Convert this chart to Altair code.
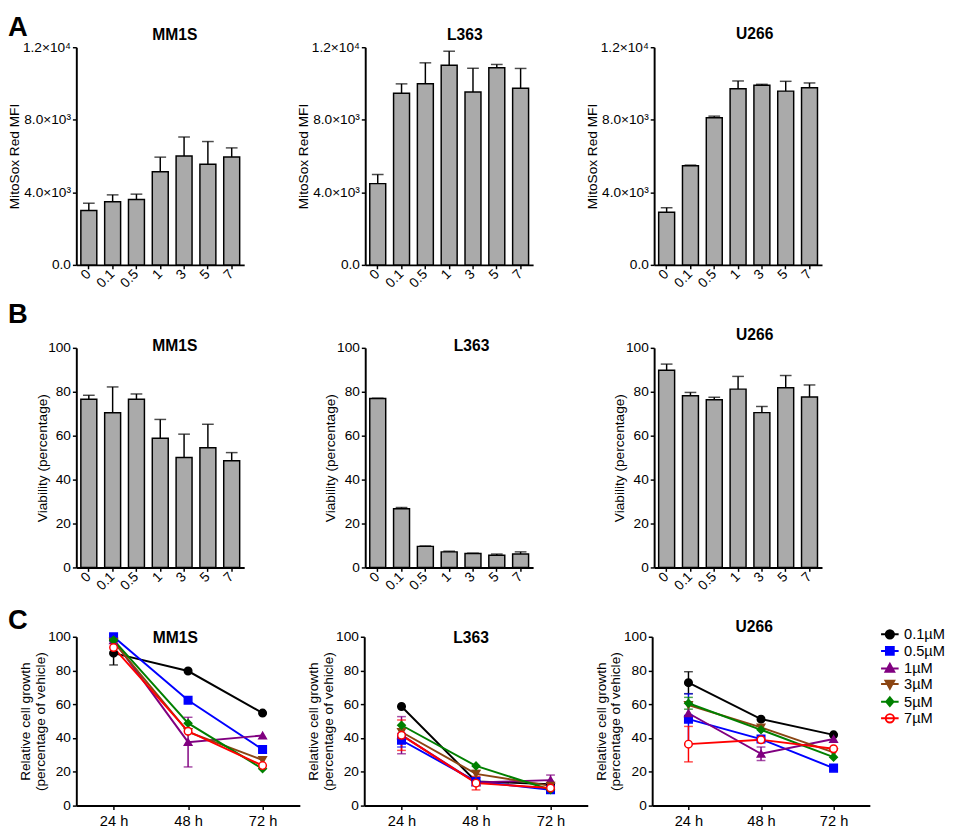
import altair as alt
import pandas as pd

FONT = "Liberation Sans"

# ---------------- data ----------------
doses = ["0", "0.1", "0.5", "1", "3", "5", "7"]

mfi_ticks = [0, 4000, 8000, 12000]
mfi_tick_labels = ["0.0", "4.0×10³", "8.0×10³", "1.2×10⁴"]
mfi_mm1s = [3000, 3480, 3600, 5140, 6000, 5550, 5950]
mfi_mm1s_err = [400, 380, 300, 800, 1050, 1250, 500]
mfi_l363 = [4480, 9460, 9990, 11010, 9530, 10870, 9740]
mfi_l363_err = [500, 520, 1150, 770, 1310, 180, 1090]
mfi_u266 = [2900, 5460, 8110, 9710, 9900, 9580, 9760]
mfi_u266_err = [250, 40, 90, 430, 55, 540, 270]

pct_ticks = [0, 20, 40, 60, 80, 100]
via_mm1s = [76.6, 70.4, 76.6, 58.8, 50.1, 54.5, 48.6]
via_mm1s_err = [1.8, 11.8, 2.4, 8.6, 10.6, 10.7, 3.7]
via_l363 = [76.9, 26.7, 9.6, 7.1, 6.4, 5.6, 6.1]
via_l363_err = [0.1, 0.6, 0.2, 0.3, 0.1, 0.5, 1.0]
via_u266 = [89.8, 78.2, 76.4, 81.2, 70.5, 81.8, 77.6]
via_u266_err = [2.8, 1.5, 1.1, 5.8, 2.8, 5.6, 5.5]

times = ["24 h", "48 h", "72 h"]
concs = ["0.1µM", "0.5µM", "1µM", "3µM", "5µM", "7µM"]
conc_colors = ["#000000", "#0000ff", "#800080", "#8b4513", "#008000", "#ff0000"]
conc_fills = ["#000000", "#0000ff", "#800080", "#8b4513", "#008000", "#ffffff"]
conc_shapes = ["circle", "square", "triangle-up", "triangle-down", "diamond", "circle"]

growth_mm1s = [[90.3, 79.7, 54.8], [100, 62.4, 33.2], [98, 37.6, 41.5],
               [97, 43.6, 27.0], [98, 48.8, 21.8], [93.6, 44.0, 23.7]]
growth_mm1s_err = [[7, 0, 0], [0, 0, 0], [0, 14.7, 0], [0, 0, 0], [0, 0, 0], [0, 0, 0]]
growth_l363 = [[58.7, 14.3, 12.7], [38.7, 14.3, 9.4], [41.7, 13.7, 15.1],
               [43.6, 18.8, 11.7], [47.6, 23.5, 9.4], [41.7, 13.3, 10.4]]
growth_l363_err = [[0, 0, 0], [4, 0, 0], [11, 0, 3], [0, 2, 0], [0, 0, 0], [9, 4, 0]]
growth_u266 = [[72.8, 51.2, 41.9], [51.2, 39.4, 22.2], [54.7, 30.7, 39.4],
               [59.6, 46.3, 31.5], [60.6, 44.9, 28.7], [36.4, 39.0, 33.7]]
growth_u266_err = [[6.5, 0, 0], [15, 0, 0], [0, 4, 0], [0, 0, 0], [3.5, 0, 0], [10.5, 0, 0]]

# legend glyphs: a line segment through the marker
legend_paths = [
    "M-1.8,0H1.8M-0.85,0A0.85,0.85 0 1,1 0.85,0A0.85,0.85 0 1,1 -0.85,0Z",
    "M-1.8,0H1.8M-0.8,-0.8H0.8V0.8H-0.8Z",
    "M-1.8,0H1.8M0,-0.95L0.9,0.7H-0.9Z",
    "M-1.8,0H1.8M0,0.95L0.9,-0.7H-0.9Z",
    "M-1.8,0H1.8M0,-0.9L0.75,0L0,0.9L-0.75,0Z",
    "M-1.8,0H1.8M-0.85,0A0.85,0.85 0 1,1 0.85,0A0.85,0.85 0 1,1 -0.85,0Z",
]

LABEL_SIZE = 14
TITLE_SIZE = 14
AX = dict(domainColor="black", domainWidth=2, tickColor="black", tickWidth=1.5, tickSize=4,
          labelColor="black", labelFont=FONT, labelFontSize=LABEL_SIZE,
          titleColor="black", titleFont=FONT, titleFontSize=TITLE_SIZE, titleFontWeight="normal",
          grid=False)


def label_expr(ticks, labels):
    expr = "''"
    for t, l in reversed(list(zip(ticks, labels))):
        expr = f"datum.value == {t} ? '{l}' : {expr}"
    return expr


def letter_layer(letter, y):
    return alt.Chart(pd.DataFrame({"t": [letter]})).mark_text(
        align="left", baseline="alphabetic", fontSize=28, fontWeight="bold",
        font=FONT, color="black"
    ).encode(text="t:N", x=alt.value(-70), y=alt.value(y))


def panel_title(name, dx, dy):
    return alt.TitleParams(name, fontSize=16, fontWeight="bold", font=FONT, color="black",
                           anchor="middle", frame="group", offset=0, dx=dx, dy=dy)


def bar_panel(vals, errs, name, ymax, ticks, lexpr, ytitle, title_x, dx, dy, height,
              letter=None, letter_y=0):
    df = pd.DataFrame({"dose": doses, "value": vals,
                       "upper": [v + e for v, e in zip(vals, errs)]})
    xenc = alt.X("dose:N", sort=doses,
                 scale=alt.Scale(paddingInner=0.33, paddingOuter=0.19),
                 axis=alt.Axis(title=None, labelAngle=-45, labelAlign="right",
                               labelBaseline="middle", labelPadding=3, **AX))
    yaxis = alt.Axis(values=ticks, title=ytitle, titleX=title_x, titleAlign="center",
                     titleBaseline="bottom", labelPadding=2,
                     **({"labelExpr": lexpr} if lexpr else {}), **AX)
    yscale = alt.Scale(domain=[0, ymax], nice=False, zero=True)
    base = alt.Chart(df)
    err = base.mark_rule(color="black", strokeWidth=1.5).encode(
        x=xenc, y=alt.Y("value:Q", scale=yscale, axis=yaxis), y2="upper:Q")
    bars = base.mark_bar(fill="#aaaaaa", stroke="black", strokeWidth=1.5).encode(
        x=xenc, y=alt.Y("value:Q", scale=yscale, axis=yaxis))
    cap = base.mark_tick(orient="horizontal", size=12, thickness=1.5, color="black").encode(
        x=xenc, y=alt.Y("upper:Q", scale=yscale, axis=yaxis))
    layers = [err, bars, cap]
    if letter:
        layers.append(letter_layer(letter, letter_y))
    return alt.layer(*layers).properties(width=172, height=height,
                                         title=panel_title(name, dx, dy))


def growth_panel(vals, errs, name, width, dx, dy, letter=None, letter_y=0, legend=False):
    rows = []
    for c, series, es in zip(concs, vals, errs):
        for t, v, e in zip(times, series, es):
            rows.append({"conc": c, "time": t, "value": v, "err": e,
                         "lo": v - e, "hi": v + e})
    df = pd.DataFrame(rows)
    edf = df[df["err"] > 0]
    xax = dict(AX)
    xax["labelFontSize"] = 15
    xenc = alt.X("time:N", sort=times, scale=alt.Scale(type="point", padding=0.5),
                 axis=alt.Axis(title=None, labelAngle=0, labelPadding=4, **xax))
    yaxis = alt.Axis(values=pct_ticks, title=["Relative cell growth", "(percentage of vehicle)"],
                     titleX=-45, titleAlign="center", titleBaseline="bottom",
                     titleLineHeight=15, labelPadding=2, **AX)
    yscale = alt.Scale(domain=[0, 100], nice=False)
    color = alt.Color("conc:N", scale=alt.Scale(domain=concs, range=conc_colors), legend=None)
    base = alt.Chart(df)
    line = base.mark_line(strokeWidth=2).encode(
        x=xenc, y=alt.Y("value:Q", scale=yscale, axis=yaxis), color=color)
    ebase = alt.Chart(edf)
    rule = ebase.mark_rule(strokeWidth=1.5).encode(
        x=xenc, y=alt.Y("lo:Q", scale=yscale, axis=yaxis), y2="hi:Q", color=color)
    cap_lo = ebase.mark_tick(orient="horizontal", size=9, thickness=1.5).encode(
        x=xenc, y=alt.Y("lo:Q", scale=yscale, axis=yaxis), color=color)
    cap_hi = ebase.mark_tick(orient="horizontal", size=9, thickness=1.5).encode(
        x=xenc, y=alt.Y("hi:Q", scale=yscale, axis=yaxis), color=color)
    pts = base.mark_point(size=60, opacity=1, strokeWidth=1.5).encode(
        x=xenc, y=alt.Y("value:Q", scale=yscale, axis=yaxis),
        shape=alt.Shape("conc:N", scale=alt.Scale(domain=concs, range=conc_shapes), legend=None),
        fill=alt.Fill("conc:N", scale=alt.Scale(domain=concs, range=conc_fills), legend=None),
        stroke=alt.Stroke("conc:N", scale=alt.Scale(domain=concs, range=conc_colors), legend=None),
    )
    layers = [line, rule, cap_lo, cap_hi, pts]
    if legend:
        lg = alt.Legend(title=None, orient="none", legendX=236, legendY=-10,
                        labelFontSize=15, labelFont=FONT, labelColor="black",
                        symbolSize=100, symbolStrokeWidth=2, symbolOpacity=1,
                        labelOffset=7, rowPadding=0)
        leg = base.transform_filter("false").mark_point(opacity=1, strokeWidth=2).encode(
            x=xenc, y=alt.Y("value:Q", scale=yscale, axis=yaxis),
            shape=alt.Shape("conc:N", scale=alt.Scale(domain=concs, range=legend_paths), legend=lg),
            fill=alt.Fill("conc:N", scale=alt.Scale(domain=concs, range=conc_fills), legend=lg),
            stroke=alt.Stroke("conc:N", scale=alt.Scale(domain=concs, range=conc_colors), legend=lg),
        )
        layers.append(leg)
    if letter:
        layers.append(letter_layer(letter, letter_y))
    ch = alt.layer(*layers).resolve_scale(shape="independent", fill="independent",
                                          stroke="independent")
    return ch.properties(width=width, height=173, title=panel_title(name, dx, dy))


mfi_expr = label_expr(mfi_ticks, mfi_tick_labels)
rowA = alt.hconcat(
    bar_panel(mfi_mm1s, mfi_mm1s_err, "MM1S", 12000, mfi_ticks, mfi_expr, "MitoSox Red MFI", -56, 15, 30, 223, "A", -12),
    bar_panel(mfi_l363, mfi_l363_err, "L363", 12000, mfi_ticks, mfi_expr, "MitoSox Red MFI", -56, 16, 3, 223),
    bar_panel(mfi_u266, mfi_u266_err, "U266", 12000, mfi_ticks, mfi_expr, "MitoSox Red MFI", -56, 17, 2, 223),
    spacing=124, bounds="flush")

rowB = alt.hconcat(
    bar_panel(via_mm1s, via_mm1s_err, "MM1S", 100, pct_ticks, None, "Viability (percentage)", -28, 15, 53, 225, "B", -25),
    bar_panel(via_l363, via_l363_err, "L363", 100, pct_ticks, None, "Viability (percentage)", -28, 23, 13, 225),
    bar_panel(via_u266, via_u266_err, "U266", 100, pct_ticks, None, "Viability (percentage)", -28, 17, 2, 225),
    spacing=124, bounds="flush")

rowC = alt.hconcat(
    growth_panel(growth_mm1s, growth_mm1s_err, "MM1S", 229, -13, 39, "C", -8),
    growth_panel(growth_l363, growth_l363_err, "L363", 229, -5, 16),
    growth_panel(growth_u266, growth_u266_err, "U266", 223, -7, 8, legend=True),
    spacing=66, bounds="flush")

chart = alt.vconcat(
    rowA,
    alt.vconcat(rowB, rowC, spacing=15),
    spacing=12,
).properties(
    padding={"left": 0, "top": -4, "right": 0, "bottom": 0}, background="white"
)
chart = chart.configure(style={
    "guide-label": {"fontSize": LABEL_SIZE, "font": FONT, "fill": "black"},
    "guide-title": {"fontSize": TITLE_SIZE, "font": FONT, "fill": "black", "fontWeight": "normal"},
}).configure_view(stroke=None).configure_axis(
    labelFontSize=LABEL_SIZE, titleFontSize=TITLE_SIZE, labelFont=FONT, titleFont=FONT,
    labelColor="black", titleColor="black", titleFontWeight="normal",
    domainColor="black", domainWidth=2, tickColor="black", tickWidth=1.5, tickSize=4, grid=False,
)

chart.save("out.html", embed_options={"renderer": "svg", "actions": False})
